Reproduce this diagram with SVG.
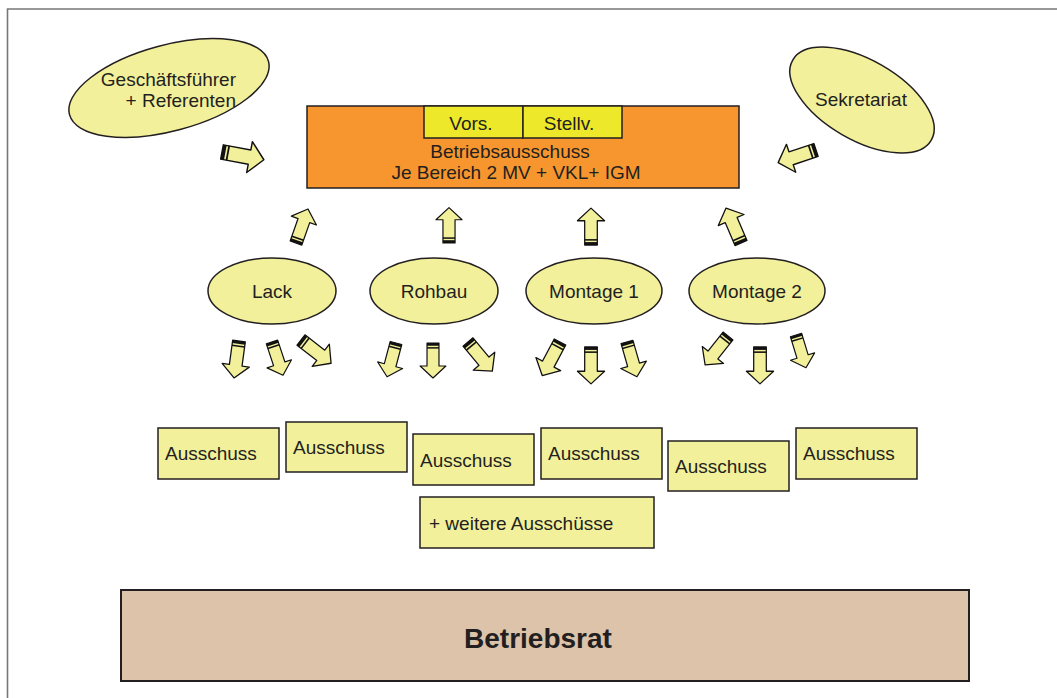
<svg xmlns="http://www.w3.org/2000/svg" xmlns:xlink="http://www.w3.org/1999/xlink" width="1057" height="698" viewBox="0 0 1057 698">
<style>
text{font-family:"Liberation Sans",Arial,sans-serif;font-size:19px;fill:#231f20}
.c{text-anchor:middle}
.yl{fill:#f2f09a;stroke:#231f20;stroke-width:1.5}
.box{fill:#f2f09a;stroke:#231f20;stroke-width:1.5}
.ah{fill:#f2f09a;stroke:#111;stroke-width:1.3;stroke-linejoin:round}
</style>
<defs>
<g id="arr">
<path class="ah" d="M0,-6.5 L25,-6.5 L25,-14 L38,0 L25,14 L25,6.5 L0,6.5 Z"/>
<rect x="0" y="-6.5" width="3" height="13" fill="#111"/>
<rect x="4.5" y="-6.5" width="1.6" height="13" fill="#111"/>
</g>
</defs>
<rect width="1057" height="698" fill="#fff"/>
<path d="M7.5,698 V9 H1057" fill="none" stroke="#777" stroke-width="1.6"/>

<g id="geschaeftsfuehrer">
<ellipse class="yl" cx="169" cy="88" rx="103" ry="43" transform="rotate(-15 169 88)"/>
<text x="236" y="86" text-anchor="end">Geschäftsführer</text>
<text x="236" y="107" text-anchor="end">+ Referenten</text>
</g>
<g id="sekretariat">
<ellipse class="yl" cx="862" cy="100" rx="80" ry="40" transform="rotate(30 862 100)"/>
<text class="c" x="861" y="106">Sekretariat</text>
</g>

<g id="betriebsausschuss">
<rect x="307" y="106" width="432" height="82" fill="#f7962e" stroke="#231f20" stroke-width="1.5"/>
<text class="c" x="510" y="158">Betriebsausschuss</text>
<text class="c" x="516" y="179">Je Bereich 2 MV + VKL+ IGM</text>
</g>
<g id="vors">
<rect x="424" y="106" width="99" height="32" fill="#eee82a" stroke="#231f20" stroke-width="1.5"/>
<text class="c" x="471" y="130">Vors.</text>
</g>
<g id="stellv">
<rect x="523" y="106" width="99" height="32" fill="#eee82a" stroke="#231f20" stroke-width="1.5"/>
<text class="c" x="569" y="130">Stellv.</text>
</g>

<g id="lack"><ellipse class="yl" cx="272" cy="291" rx="64" ry="33"/><text class="c" x="272" y="298">Lack</text></g>
<g id="rohbau"><ellipse class="yl" cx="434" cy="291" rx="64" ry="33"/><text class="c" x="434" y="298">Rohbau</text></g>
<g id="montage1"><ellipse class="yl" cx="594" cy="291" rx="68" ry="33"/><text class="c" x="594" y="298">Montage 1</text></g>
<g id="montage2"><ellipse class="yl" cx="757" cy="291" rx="68" ry="33"/><text class="c" x="757" y="298">Montage 2</text></g>

<g id="ausschuss1"><rect class="box" x="158" y="428" width="121" height="51"/><text x="165" y="460">Ausschuss</text></g>
<g id="ausschuss2"><rect class="box" x="286" y="422" width="121" height="50"/><text x="293" y="454">Ausschuss</text></g>
<g id="ausschuss3"><rect class="box" x="413" y="434" width="121" height="51"/><text x="420" y="467">Ausschuss</text></g>
<g id="ausschuss4"><rect class="box" x="541" y="428" width="121" height="51"/><text x="548" y="460">Ausschuss</text></g>
<g id="ausschuss5"><rect class="box" x="668" y="441" width="121" height="50"/><text x="675" y="473">Ausschuss</text></g>
<g id="ausschuss6"><rect class="box" x="796" y="428" width="121" height="51"/><text x="803" y="460">Ausschuss</text></g>
<g id="weitere"><rect class="box" x="420" y="497" width="234" height="51"/><text x="429" y="530">+ weitere Ausschüsse</text></g>

<g id="betriebsrat">
<rect x="121" y="590" width="848" height="91" fill="#dcc3a9" stroke="#231f20" stroke-width="2"/>
<text class="c" x="538" y="648" style="font-size:28px;font-weight:bold">Betriebsrat</text>
</g>

<g id="connectors">
<use xlink:href="#arr" transform="translate(222,152) rotate(10.5) scale(1.12)"/>
<use xlink:href="#arr" transform="translate(816,150) rotate(161.6) scale(1.05)"/>
<use xlink:href="#arr" transform="translate(296,243) rotate(-70.6) scale(0.95)"/>
<use xlink:href="#arr" transform="translate(449,243) rotate(-90) scale(0.93)"/>
<use xlink:href="#arr" transform="translate(591,245) rotate(-90) scale(0.97)"/>
<use xlink:href="#arr" transform="translate(741,243) rotate(-113.2)"/>

<use xlink:href="#arr" transform="translate(239,341) rotate(97.7) scale(0.98)"/>
<use xlink:href="#arr" transform="translate(272,342) rotate(71.6) scale(0.92)"/>
<use xlink:href="#arr" transform="translate(301,340) rotate(37.7)"/>
<use xlink:href="#arr" transform="translate(396,343) rotate(104.8) scale(0.92)"/>
<use xlink:href="#arr" transform="translate(433,343) rotate(90) scale(0.92)"/>
<use xlink:href="#arr" transform="translate(468,342) rotate(50.2)"/>
<use xlink:href="#arr" transform="translate(560,342) rotate(117.9)"/>
<use xlink:href="#arr" transform="translate(591,347) rotate(90) scale(0.97)"/>
<use xlink:href="#arr" transform="translate(627,342) rotate(74) scale(0.95)"/>
<use xlink:href="#arr" transform="translate(728,336) rotate(128.4) scale(0.97)"/>
<use xlink:href="#arr" transform="translate(760,347) rotate(90) scale(0.97)"/>
<use xlink:href="#arr" transform="translate(796,335) rotate(73) scale(0.9)"/>
</g>
</svg>
